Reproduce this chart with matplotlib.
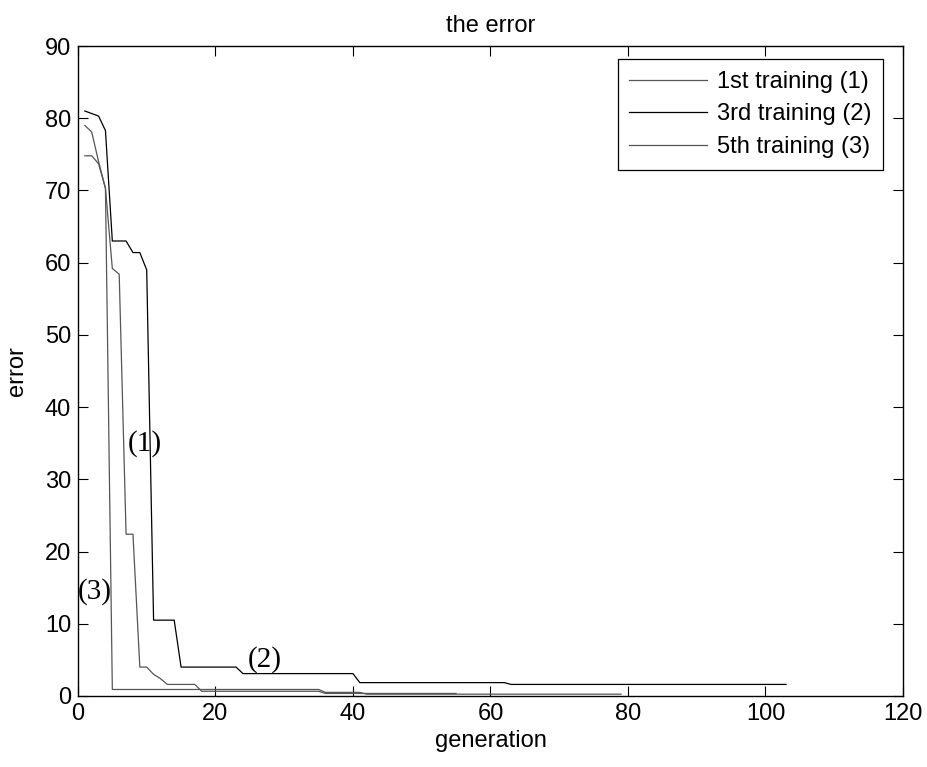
import matplotlib
matplotlib.use("Agg")
import matplotlib.pyplot as plt

# error per generation for three training runs
gen1 = [1, 2, 3, 4, 5, 6, 7, 8, 9, 10, 11, 12, 13, 17, 18, 35, 36, 55]
err1 = [79.0, 78.1, 74.0, 70.3, 59.2, 58.4, 22.4, 22.4, 4.0, 4.0, 3.0, 2.4,
        1.6, 1.6, 0.65, 0.65, 0.35, 0.35]

gen2 = [1, 3, 4, 5, 7, 8, 9, 10, 11, 14, 15, 23, 24, 40, 41, 62, 63, 103]
err2 = [81.0, 80.3, 78.3, 63.0, 63.0, 61.4, 61.4, 59.0, 10.5, 10.5, 4.0, 4.0,
        3.1, 3.1, 1.85, 1.85, 1.6, 1.6]

gen3 = [1, 2, 3, 4, 5, 35, 36, 41, 42, 79]
err3 = [74.8, 74.8, 73.7, 70.3, 0.9, 0.9, 0.5, 0.5, 0.25, 0.25]

names = ["1st training (1)", "3rd training (2)", "5th training (3)"]
tags = ["(1)", "(2)", "(3)"]
tag_pos = [(9.7, 35.0), (27.2, 5.0), (2.5, 14.4)]

plt.rcParams["font.family"] = ["Liberation Sans", "DejaVu Sans"]
fig = plt.figure(figsize=(9.28, 7.67), dpi=100)
ax = fig.add_axes([0.084, 0.0926, 0.889, 0.8474])

ax.plot(gen1, err1, color="#555555", lw=0.9, label=names[0])
ax.plot(gen2, err2, color="black", lw=0.9, label=names[1])
ax.plot(gen3, err3, color="#555555", lw=0.9, label=names[2])

for t, (x, y) in zip(tags, tag_pos):
    ax.text(x, y, t, fontsize=21, family="Liberation Serif",
            ha="center", va="center")

ax.set_xlim(0, 120)
ax.set_ylim(0, 90)
ax.set_xticks(range(0, 121, 20))
ax.set_yticks(range(0, 91, 10))
ax.tick_params(direction="in", length=7, width=0.8, top=True, right=True,
               labelsize=17, pad=5)
for s in ax.spines.values():
    s.set_linewidth(1.0)

ax.set_title("the error", fontsize=17, pad=10)
ax.set_xlabel("generation", fontsize=17, labelpad=4)
ax.set_ylabel("error", fontsize=17, labelpad=12)

leg = ax.legend(loc="upper right", bbox_to_anchor=(0.976, 0.98),
                fontsize=17, fancybox=False, framealpha=1, edgecolor="black",
                handlelength=3.3, handletextpad=0.4, borderaxespad=0,
                labelspacing=0.45, borderpad=0.5)
leg.get_frame().set_linewidth(0.9)

fig.savefig("out.png", dpi=100)
